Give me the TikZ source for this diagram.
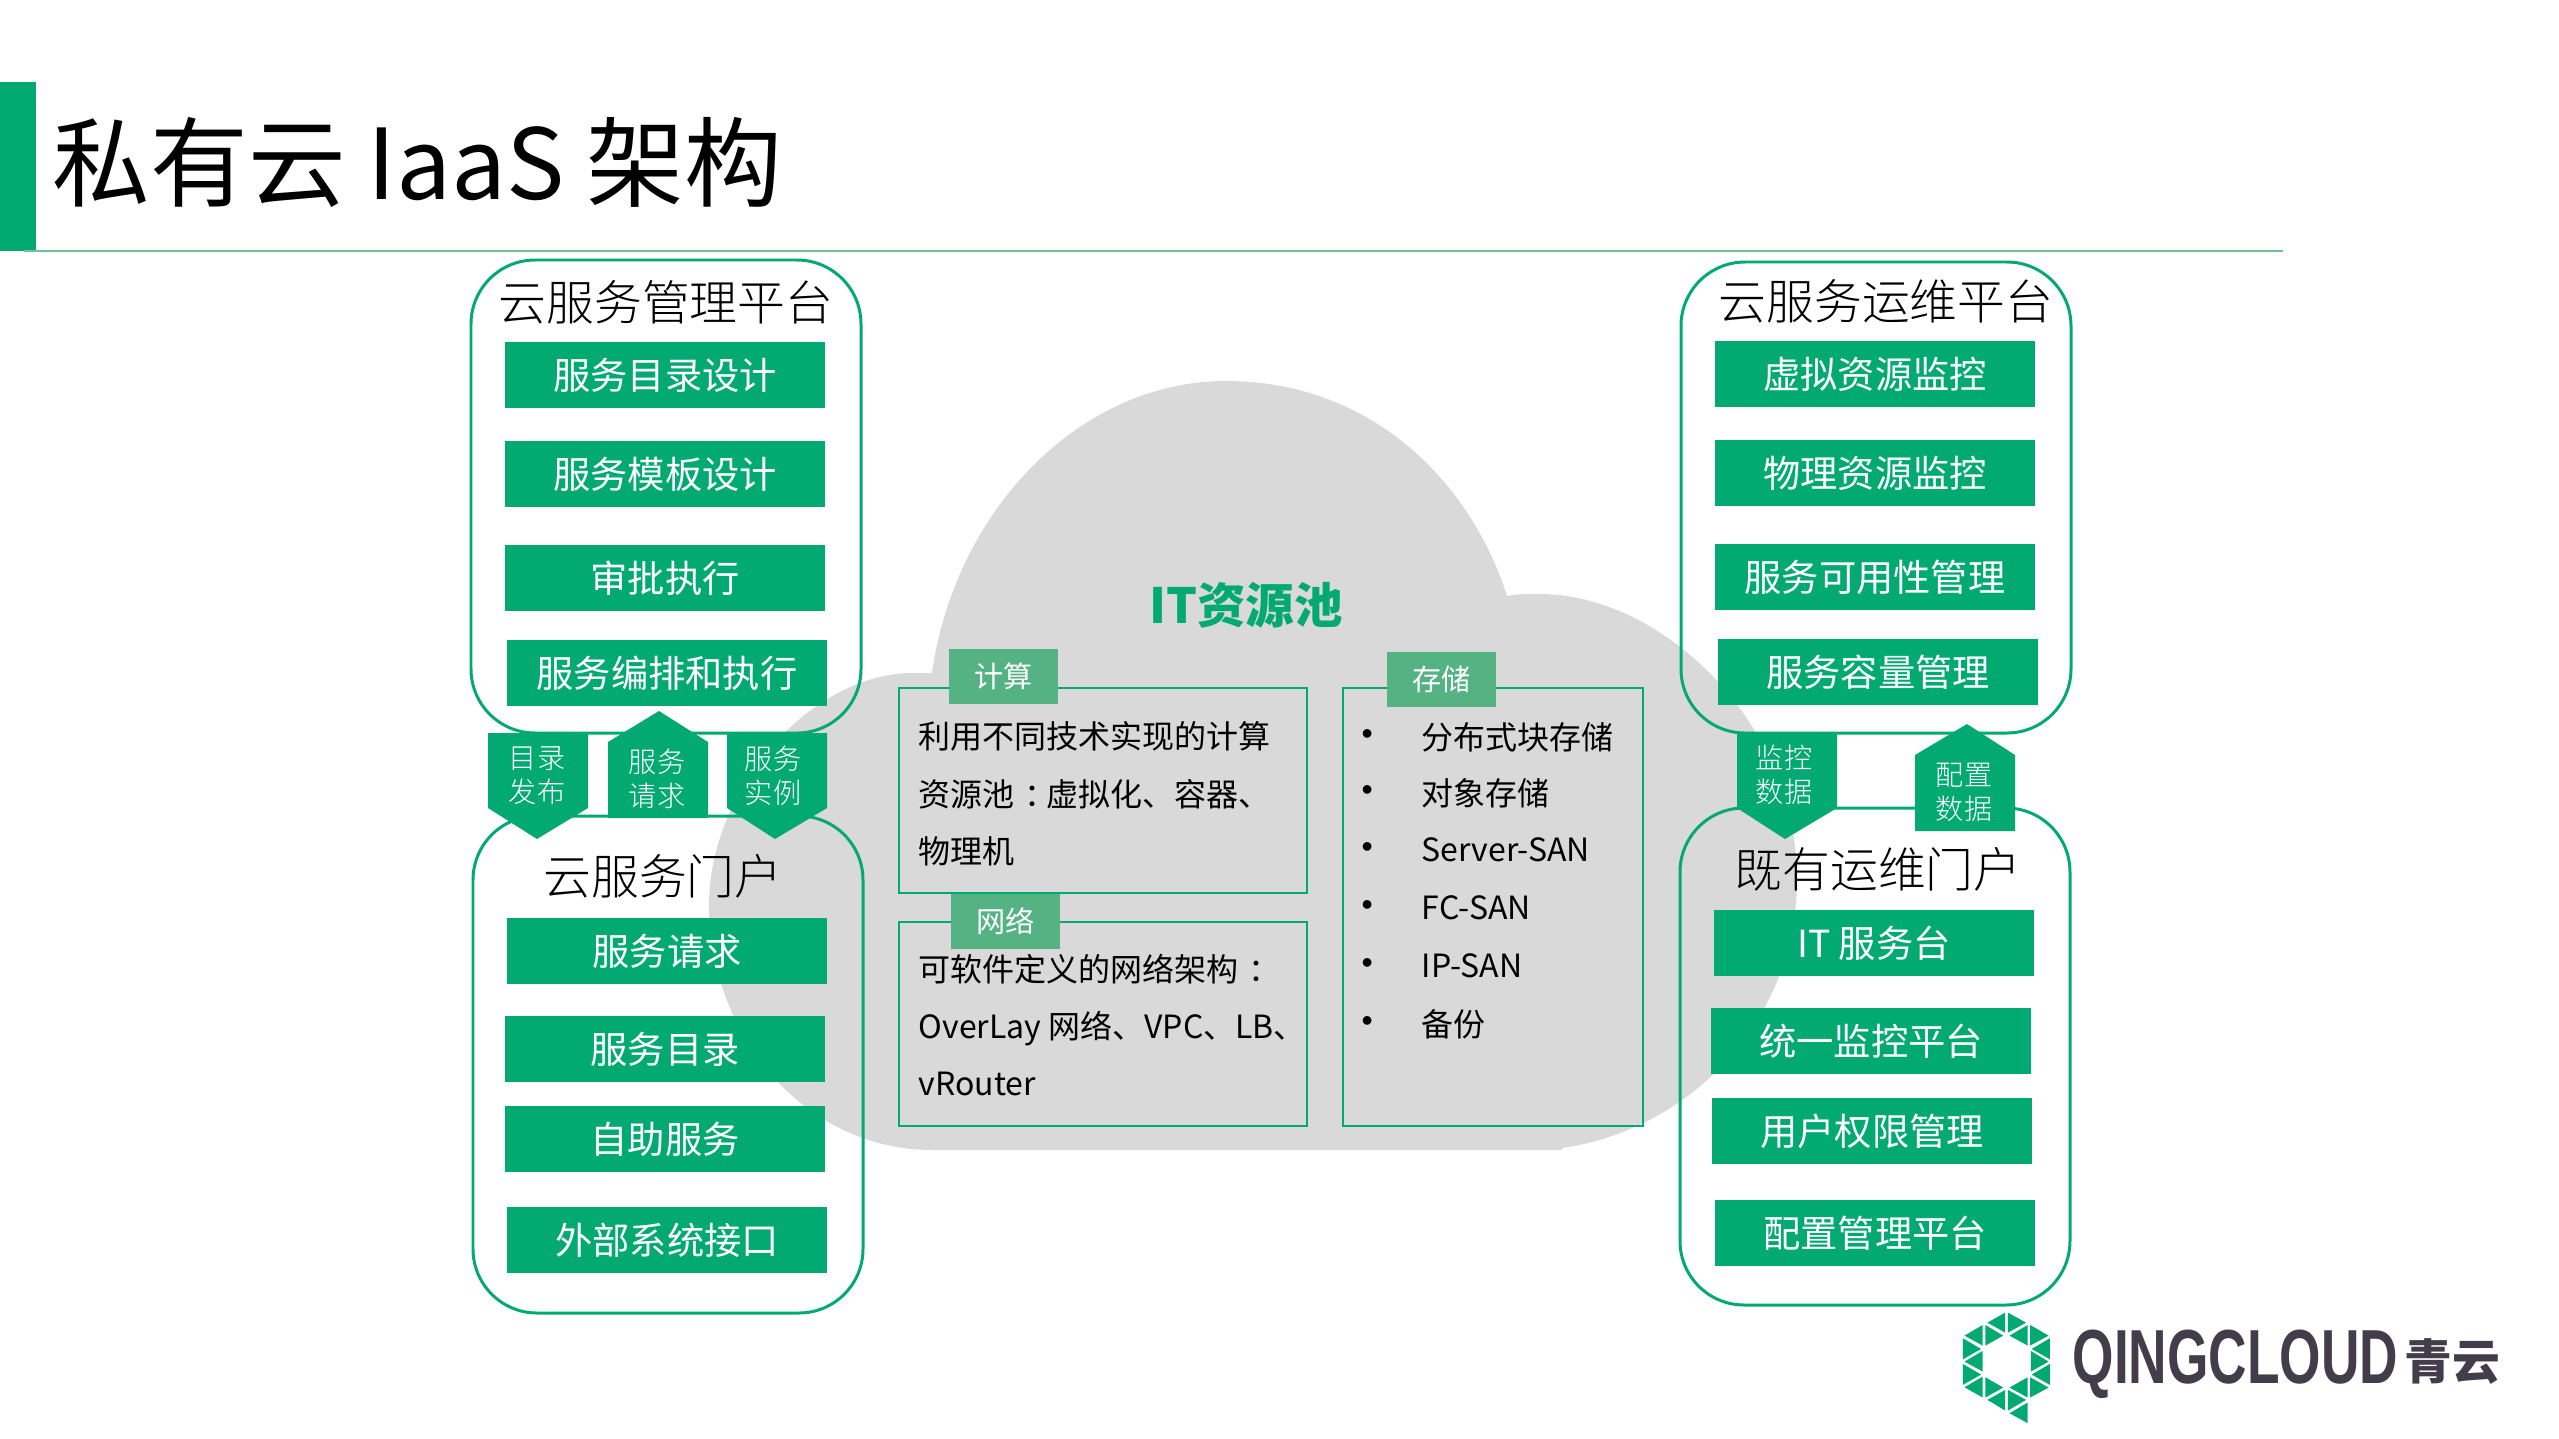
\documentclass[tikz,border=0pt]{standalone}
\usepackage{fontspec}
\setmainfont{Noto Sans CJK SC}
\newfontfamily\thinfont{Noto Sans CJK SC Light}
\newfontfamily\logofont{Liberation Sans}
\definecolor{qinggreen}{HTML}{02AA72}
\definecolor{tabgreen}{HTML}{55B283}
\definecolor{rulegreen}{HTML}{6CC49A}
\definecolor{cloudgray}{HTML}{D9D9D9}
\definecolor{logodark}{HTML}{433C4B}
\newcommand{\midcolon}{\kern.3em：\kern-.3em}
\tikzset{
    panel/.style={draw=qinggreen, line width=.85pt, rounded corners=.64cm},
    panelhead/.style={font=\thinfont\fontsize{13.6}{16}\selectfont, inner sep=0pt},
    greenbox/.style={fill=qinggreen, text=white, minimum width=3.19cm, minimum height=.665cm,
        inner sep=0pt, font=\fontsize{10.6}{12}\selectfont},
    penttext/.style={text=white, inner sep=0pt, align=center,
        font=\thinfont\fontsize{8}{9.7}\selectfont},
    resbox/.style={draw=qinggreen, line width=.8pt},
    restab/.style={fill=tabgreen, text=white, minimum width=1.09cm, minimum height=.55cm,
        inner sep=0pt, font=\fontsize{8.3}{10}\selectfont},
    restext/.style={inner sep=0pt, align=left, anchor=west, font=\fontsize{9.1}{16.3}\selectfont},
}

\begin{document}
\begin{tikzpicture}[x=.01cm,y=-.01cm]
    \useasboundingbox (0,0) rectangle (2559,1439);

    % Draw the heading.
    \fill[qinggreen] (0,82) rectangle (36,251);
    \draw[rulegreen, line width=.8pt] (24,251) -- (2283,251);
    \node[anchor=west, inner sep=0pt, font=\fontsize{27.8}{30}\selectfont] (heading) at (52,162)
        {私有云 IaaS 架构};

    % Draw the cloud behind everything.
    \fill[cloudgray] (932,673) .. controls (955,510) and (1080,381) .. (1226,381)
        .. controls (1370,381) and (1470,480) .. (1507,596)
        .. controls (1517,594) and (1527,594) .. (1540,594)
        .. controls (1660,594) and (1797,720) .. (1797,880)
        .. controls (1797,1020) and (1690,1130) .. (1562,1148)
        -- (1562,1150) -- (933,1150)
        .. controls (800,1150) and (709,1030) .. (709,905)
        .. controls (709,790) and (810,673) .. (913,673) -- cycle;
    \node[text=qinggreen, inner sep=0pt, font=\bfseries\fontsize{13.8}{16}\selectfont] (poolname)
        at (1246,605) {IT资源池};

    % Draw the four panels.
    \draw[panel] (471,260) rectangle (861,733);
    \draw[panel] (473,816) rectangle (863,1313);
    \draw[panel] (1681,262) rectangle (2071,733);
    \draw[panel] (1680,808) rectangle (2070,1305);
    \node[panelhead] (mgmthead) at (666,302) {云服务管理平台};
    \node[panelhead] (portalhead) at (663,876) {云服务门户};
    \node[panelhead] (opshead) at (1886,301) {云服务运维平台};
    \node[panelhead] (legacyhead) at (1878,869) {既有运维门户};

    % Draw the green entries of each panel.
    \foreach \x/\y/\lab [count=\i] in {665/375/服务目录设计, 665/474/服务模板设计, 665/578/审批执行, 667/673/服务编排和执行}
        \node[greenbox] (mgmt\i) at (\x,\y) {\lab};
    \foreach \x/\y/\lab [count=\i] in {667/951/服务请求, 665/1049/服务目录, 665/1139/自助服务, 667/1240/外部系统接口}
        \node[greenbox] (portal\i) at (\x,\y) {\lab};
    \foreach \x/\y/\lab [count=\i] in {1875/374/虚拟资源监控, 1875/473/物理资源监控, 1875/577/服务可用性管理, 1878/672/服务容量管理}
        \node[greenbox] (ops\i) at (\x,\y) {\lab};
    \foreach \x/\y/\lab [count=\i] in {1874/943/IT 服务台, 1871/1041/统一监控平台, 1872/1131/用户权限管理, 1875/1233/配置管理平台}
        \node[greenbox] (legacy\i) at (\x,\y) {\lab};

    % Draw the pentagon tags between the panels.
    \foreach \xl/\xt in {488/537, 727/775, 1737/1785}
        \fill[qinggreen] (\xl,733) -- ++(100,0) -- ++(0,75) -- (\xt,839) -- (\xl,808) -- cycle;
    \foreach \xl/\xt/\yt/\ys/\yb in {608/659/711/742/818, 1915/1967/724/755/831}
        \fill[qinggreen] (\xl,\ys) -- (\xt,\yt) -- (\xl+100,\ys) -- (\xl+100,\yb) -- (\xl,\yb) -- cycle;
    \node[penttext] (publish) at (537,776) {目录\\发布};
    \node[penttext] (request) at (657,779) {服务\\请求};
    \node[penttext] (instance) at (773,776) {服务\\实例};
    \node[penttext] (monitor) at (1784,775) {监控\\数据};
    \node[penttext] (config) at (1964,792) {配置\\数据};

    % Draw the resource boxes.
    \draw[resbox] (899,688) rectangle (1307,893);
    \draw[resbox] (899,922) rectangle (1307,1126);
    \draw[resbox] (1343,688) rectangle (1643,1126);
    \node[restab] (computetab) at (1003.5,676.5) {计算};
    \node[restab] (nettab) at (1005.5,921.5) {网络};
    \node[restab] (storetab) at (1441.5,679.5) {存储};
    \node[restext] (computetext) at (918,794) {利用不同技术实现的计算\\资源池\midcolon 虚拟化、容器、\\物理机};
    \node[restext] (nettext) at (918,1025) {可软件定义的网络架构\midcolon\\OverLay 网络、VPC、LB、\\vRouter};

    % Draw the storage list.
    \foreach \y/\lab [count=\i] in {737/分布式块存储, 793/对象存储, 850/Server-SAN, 908/FC-SAN, 966/IP-SAN, 1024/备份} {
        \node[restext, font=\logofont\fontsize{9.1}{11}\selectfont] (dot\i) at (1361,\y) {•};
        \node[restext] (store\i) at (1421,\y) {\lab};
    }

    % Draw the logo, in the pixel grid of a crop.
    \begin{scope}[shift={(1940,1290)},xscale=.395,yscale=.333]
        \foreach \a/\b/\c/\d/\e/\f in {165/68/120/98/165/128, 172/68/218/98/172/128,
            108/105/62/137/108/167, 115/105/160/137/115/167,
            222/105/176/137/222/167, 228/105/275/137/228/167,
            58/145/104/177/58/208, 108/183/62/215/108/245, 58/222/104/254/58/285,
            108/260/62/292/108/323, 115/262/160/293/115/323,
            165/300/120/330/165/362, 172/300/218/330/172/362,
            222/262/176/293/222/323, 228/262/275/293/228/323,
            278/145/232/177/278/208, 230/183/275/215/230/245, 278/222/232/254/278/285,
            222/338/176/370/222/400}
            \fill[qinggreen] (\a,\b) -- (\c,\d) -- (\e,\f) -- cycle;
    \end{scope}
    \node[anchor=west, inner sep=0pt, text=logodark] (logoname) at (2072,1364)
        {\scalebox{.695}[1]{\logofont\bfseries\fontsize{21.8}{24}\selectfont QINGCLOUD}};
    \node[anchor=west, inner sep=0pt, text=logodark, font=\bfseries\fontsize{13.6}{15}\selectfont]
        (logocn) at (2404,1362) {青云};
\end{tikzpicture}
\end{document}
